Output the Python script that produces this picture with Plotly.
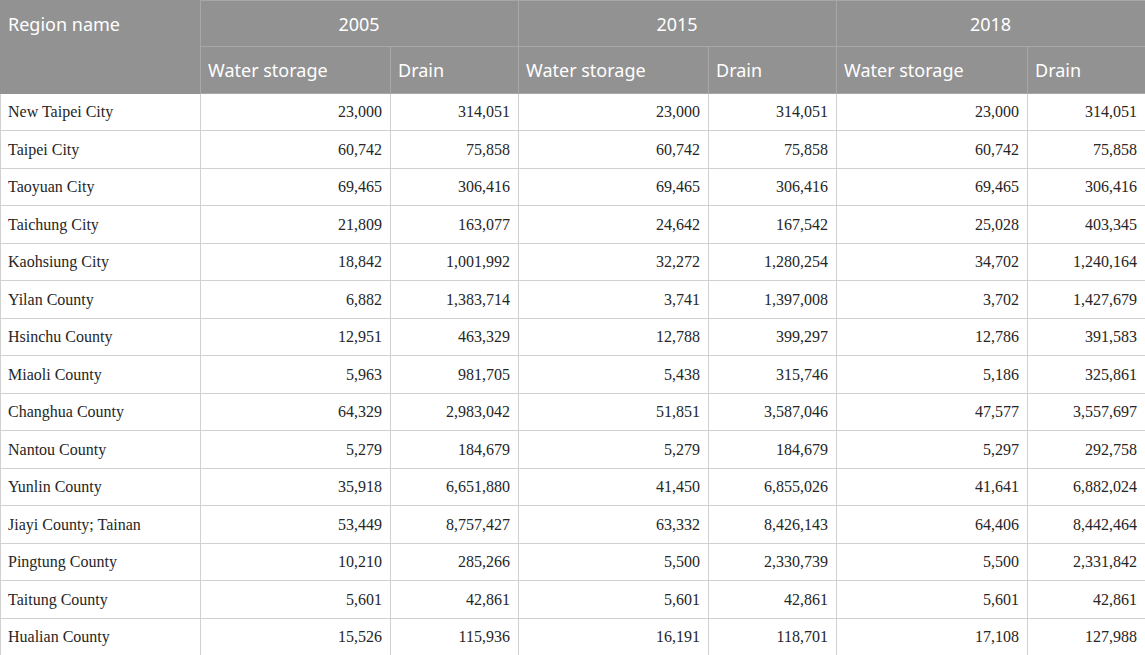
import plotly.graph_objects as go

# table data
regions = ["New Taipei City", "Taipei City", "Taoyuan City", "Taichung City", "Kaohsiung City",
           "Yilan County", "Hsinchu County", "Miaoli County", "Changhua County", "Nantou County",
           "Yunlin County", "Jiayi County; Tainan", "Pingtung County", "Taitung County", "Hualian County"]
years = ["2005", "2015", "2018"]
sub_cols = ["Water storage", "Drain"]

storage_2005 = [23000, 60742, 69465, 21809, 18842, 6882, 12951, 5963, 64329, 5279, 35918, 53449, 10210, 5601, 15526]
drain_2005 = [314051, 75858, 306416, 163077, 1001992, 1383714, 463329, 981705, 2983042, 184679, 6651880,
              8757427, 285266, 42861, 115936]
storage_2015 = [23000, 60742, 69465, 24642, 32272, 3741, 12788, 5438, 51851, 5279, 41450, 63332, 5500, 5601, 16191]
drain_2015 = [314051, 75858, 306416, 167542, 1280254, 1397008, 399297, 315746, 3587046, 184679, 6855026,
              8426143, 2330739, 42861, 118701]
storage_2018 = [23000, 60742, 69465, 25028, 34702, 3702, 12786, 5186, 47577, 5297, 41641, 64406, 5500, 5601, 17108]
drain_2018 = [314051, 75858, 306416, 403345, 1240164, 1427679, 391583, 325861, 3557697, 292758, 6882024,
              8442464, 2331842, 42861, 127988]

W = 1145
FIG_H = 660  # a few px taller than the 655 window, bottom is cut off by the viewport
col_w = [200, 190, 128, 190, 128, 191, 118]
top_col_w = [col_w[0], col_w[1] + col_w[2], col_w[3] + col_w[4], col_w[5] + col_w[6]]
top_h = 46
sub_h = 47
row_h = 37.5

# plotly tables put text near the top of a cell -> draw text in separate,
# transparent tables moved down a little so it sits in the middle
head_shift = 9
body_shift = 4

HEAD_BG = "#929292"
HEAD_LINE = "#a8a8a8"
BODY_LINE = "#d0d0d0"
NONE = "rgba(0,0,0,0)"
head_font = dict(family="Noto Sans", size=18, color="white")
body_font = dict(family="Liberation Serif", size=16, color="#262626")


def ydom(top_px, bottom_px):
    return [1 - bottom_px / FIG_H, 1 - top_px / FIG_H]


fig = go.Figure()

#%% backgrounds and grid lines
fig.add_trace(go.Table(
    domain=dict(x=[0, 1], y=ydom(0, top_h)),
    columnwidth=top_col_w,
    header=dict(values=[""] * 4, fill_color=HEAD_BG,
                line=dict(color=[HEAD_BG, HEAD_LINE, HEAD_LINE, HEAD_LINE], width=1),
                height=top_h),
    cells=dict(values=[[] for _ in range(4)]),
))
fig.add_trace(go.Table(
    domain=dict(x=[0, 1], y=ydom(top_h, FIG_H)),
    columnwidth=col_w,
    header=dict(values=[""] * 7, fill_color=HEAD_BG,
                line=dict(color=[HEAD_BG] + [HEAD_LINE] * 6, width=1),
                height=sub_h),
    cells=dict(values=[[""] * len(regions) for _ in range(7)], fill_color="white",
               line=dict(color=BODY_LINE, width=1), height=row_h),
))

#%% texts
fig.add_trace(go.Table(
    domain=dict(x=[0, 1], y=ydom(head_shift, top_h + head_shift)),
    columnwidth=top_col_w,
    header=dict(values=["Region name"] + years, fill_color=NONE, line=dict(color=NONE),
                align=["left", "center", "center", "center"], font=head_font, height=top_h),
    cells=dict(values=[[] for _ in range(4)]),
))
fig.add_trace(go.Table(
    domain=dict(x=[0, 1], y=ydom(top_h + head_shift, FIG_H)),
    columnwidth=col_w,
    header=dict(values=[""] + sub_cols * 3, fill_color=NONE, line=dict(color=NONE),
                align="left", font=head_font, height=sub_h - head_shift + body_shift),
    cells=dict(
        values=[regions, storage_2005, drain_2005, storage_2015, drain_2015, storage_2018, drain_2018],
        format=[None] + [",d"] * 6,
        fill_color=NONE,
        line=dict(color=NONE),
        align=["left"] + ["right"] * 6,
        font=body_font,
        height=row_h,
    ),
))

fig.update_layout(
    width=W, height=FIG_H,
    margin=dict(l=0, r=0, t=0, b=0),
    paper_bgcolor="white",
)

fig.write_html("out.html", config={"displayModeBar": False},
               post_script="document.body.style.margin='0';document.body.style.overflow='hidden';")
